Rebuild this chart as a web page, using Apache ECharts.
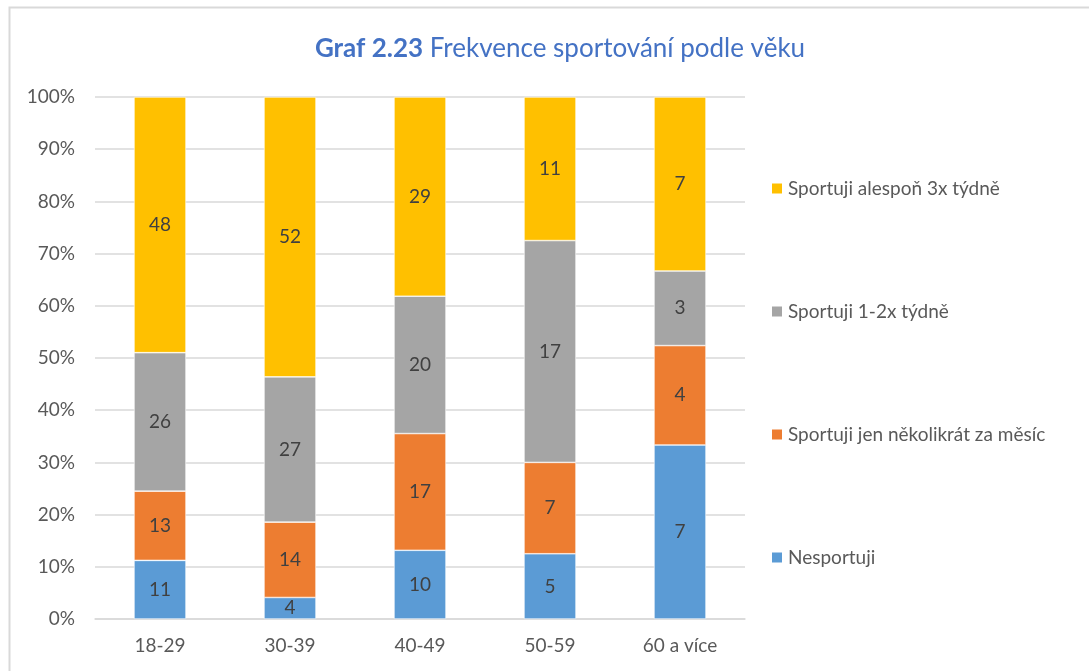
<!DOCTYPE html>
<html>
<head>
<meta charset="utf-8">
<script src="https://cdn.jsdelivr.net/npm/echarts@6/dist/echarts.min.js"></script>
<style>
  html, body { margin: 0; padding: 0; background: #fff; }
  #chart { width: 1089px; height: 671px; }
</style>
</head>
<body>
<div id="chart"></div>
<script>
var categories = ['18-29', '30-39', '40-49', '50-59', '60 a více'];
var yTicks = ['0%', '10%', '20%', '30%', '40%', '50%', '60%', '70%', '80%', '90%', '100%'];

// counts per age group (shown as labels), bars are stacked to 100%
var nesportuji = [11, 4, 10, 5, 7];
var mesicne = [13, 14, 17, 7, 4];
var tydne12 = [26, 27, 20, 17, 3];
var tydne3 = [48, 52, 29, 11, 7];

var seriesNames = ['Nesportuji', 'Sportuji jen několikrát za měsíc', 'Sportuji 1-2x týdně', 'Sportuji alespoň 3x týdně'];
var seriesColors = ['#5B9BD5', '#ED7D31', '#A5A5A5', '#FFC000'];
var allCounts = [nesportuji, mesicne, tydne12, tydne3];

var totals = categories.map(function (c, i) {
    return nesportuji[i] + mesicne[i] + tydne12[i] + tydne3[i];
});

var font = 'Lato, "Open Sans", sans-serif';

var series = allCounts.map(function (counts, s) {
    return {
        name: seriesNames[s],
        type: 'bar',
        stack: 'total',
        barWidth: '40%',
        itemStyle: { color: seriesColors[s], borderColor: '#fff', borderWidth: 0.6 },
        label: {
            show: true,
            position: 'inside',
            color: '#404040',
            fontSize: 19,
            fontFamily: font,
            formatter: function (p) { return counts[p.dataIndex]; }
        },
        data: counts.map(function (v, i) { return v / totals[i] * 100; })
    };
});

var myChart = echarts.init(document.getElementById('chart'));
var option = {
    animation: false,
    textStyle: { fontFamily: font },
    title: {
        text: '{b|Graf 2.23} Frekvence sportování podle věku',
        left: 555,
        textAlign: 'center',
        top: 31,
        textStyle: {
            color: '#4472C4',
            fontSize: 26,
            fontWeight: 'normal',
            fontFamily: font,
            rich: {
                b: { color: '#4472C4', fontSize: 26, fontWeight: 'bold', fontFamily: font }
            }
        }
    },
    graphic: [{
        type: 'rect',
        shape: { x: 9.5, y: 7.5, width: 1200, height: 800 },
        style: { fill: 'none', stroke: '#D9D9D9', lineWidth: 2 },
        silent: true
    }],
    legend: {
        orient: 'vertical',
        left: 765,
        top: 174,
        itemWidth: 12,
        itemHeight: 12,
        itemGap: 104,
        icon: 'rect',
        textStyle: { color: '#595959', fontSize: 19, fontFamily: font },
        data: seriesNames.slice().reverse()
    },
    grid: { left: 95, right: 344, top: 97, bottom: 52 },
    xAxis: {
        type: 'category',
        data: categories,
        axisLine: { lineStyle: { color: '#D9D9D9', width: 1.5 } },
        axisTick: { show: false },
        axisLabel: { color: '#595959', fontSize: 19, margin: 17, fontFamily: font }
    },
    yAxis: {
        type: 'value',
        min: 0,
        max: 100,
        interval: 10,
        axisLine: { show: false },
        axisTick: { show: false },
        splitLine: { lineStyle: { color: '#D9D9D9', width: 1.5 } },
        axisLabel: {
            color: '#595959',
            fontSize: 19,
            margin: 20,
            fontFamily: font,
            formatter: function (v) { return yTicks[Math.round(v / 10)]; }
        }
    },
    series: series
};
myChart.setOption(option);
</script>
</body>
</html>
